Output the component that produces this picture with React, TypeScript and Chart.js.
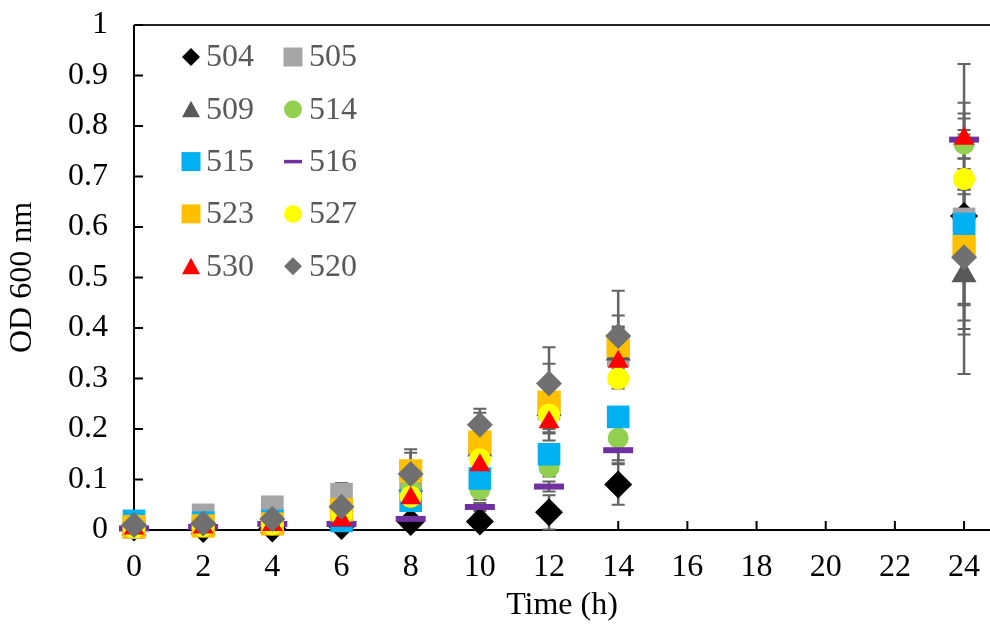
import React, { useEffect, useRef } from 'react';
import { Chart, registerables } from 'chart.js';

Chart.register(...registerables);

// ---- data ----
const times = [0, 2, 4, 6, 8, 10, 12, 14, 24];
const xTicks = [0, 2, 4, 6, 8, 10, 12, 14, 16, 18, 20, 22, 24];
const yTicks = [0, 0.1, 0.2, 0.3, 0.4, 0.5, 0.6, 0.7, 0.8, 0.9, 1];
const xTitle = 'Time (h)';
const yTitle = 'OD 600 nm';

const names = ['504', '505', '509', '514', '515', '516', '523', '527', '530', '520'];

const v504 = [0.005, 0.002, 0.003, 0.008, 0.016, 0.017, 0.035, 0.09, 0.622];
const e504 = [0.003, 0.002, 0.003, 0.005, 0.01, 0.015, 0.034, 0.04, 0.224];
const v505 = [0.005, 0.03, 0.046, 0.071, 0.1, 0.17, 0.24, 0.345, 0.616];
const e505 = [0.003, 0.005, 0.008, 0.022, 0.02, 0.03, 0.04, 0.058, 0.307];
const v509 = [0.003, 0.005, 0.008, 0.03, 0.09, 0.16, 0.24, 0.35, 0.505];
const e509 = [0.002, 0.003, 0.004, 0.005, 0.015, 0.02, 0.03, 0.05, 0.06];
const v514 = [0.004, 0.006, 0.01, 0.02, 0.08, 0.08, 0.124, 0.182, 0.764];
const e514 = [0.002, 0.003, 0.004, 0.005, 0.01, 0.02, 0.018, 0.05, 0.028];
const v515 = [0.018, 0.0145, 0.018, 0.018, 0.058, 0.102, 0.15, 0.224, 0.606];
const e515 = [0.003, 0.003, 0.003, 0.004, 0.01, 0.02, 0.02, 0.016, 0.219];
const v516 = [0.003, 0.006, 0.012, 0.012, 0.022, 0.0455, 0.086, 0.158, 0.773];
const e516 = [0.001, 0.002, 0.002, 0.003, 0.005, 0.008, 0.01, 0.02, 0.01];
const v523 = [0.0065, 0.008, 0.012, 0.04, 0.117, 0.174, 0.253, 0.365, 0.561];
const e523 = [0.003, 0.003, 0.004, 0.008, 0.043, 0.058, 0.076, 0.06, 0.113];
const v527 = [0.005, 0.008, 0.012, 0.03, 0.066, 0.14, 0.228, 0.3, 0.695];
const e527 = [0.002, 0.003, 0.003, 0.005, 0.01, 0.02, 0.037, 0.02, 0.02];
const v530 = [0.003, 0.005, 0.01, 0.02, 0.063, 0.128, 0.2135, 0.333, 0.775];
const e530 = [0.002, 0.002, 0.003, 0.004, 0.01, 0.02, 0.02, 0.02, 0.04];
const v520 = [0.01, 0.013, 0.022, 0.046, 0.111, 0.2085, 0.29, 0.384, 0.54];
const e520 = [0.003, 0.003, 0.004, 0.006, 0.042, 0.0315, 0.072, 0.09, 0.125];

const values = [v504, v505, v509, v514, v515, v516, v523, v527, v530, v520];
const errors = [e504, e505, e509, e514, e515, e516, e523, e527, e530, e520];

// ---- styles ----
const colors = ['#000000', '#A5A5A5', '#595959', '#92D050', '#00B0F0', '#7030A0', '#FFC000', '#FFFF00', '#FF0000', '#707070'];
const shapes = ['rectRot', 'rect', 'triangle', 'circle', 'rect', 'line', 'rect', 'circle', 'triangle', 'rectRot'];
const radii = [14, 16, 14.5, 10.5, 16, 15, 16.5, 11, 12, 13];
const FONT = "'Liberation Serif', 'Times New Roman', serif";

function legendMarker(ctx: CanvasRenderingContext2D, shape: string, x: number, y: number, color: string) {
  ctx.fillStyle = color;
  ctx.strokeStyle = color;
  ctx.beginPath();
  if (shape === 'rectRot') {
    const h = 9;
    ctx.moveTo(x, y - h); ctx.lineTo(x + h, y); ctx.lineTo(x, y + h); ctx.lineTo(x - h, y); ctx.closePath(); ctx.fill();
  } else if (shape === 'rect') {
    const h = 9.5;
    ctx.rect(x - h, y - h, 2 * h, 2 * h); ctx.fill();
  } else if (shape === 'triangle') {
    const w = 9;
    ctx.moveTo(x, y - 8.5); ctx.lineTo(x + w, y + 8); ctx.lineTo(x - w, y + 8); ctx.closePath(); ctx.fill();
  } else if (shape === 'circle') {
    ctx.arc(x, y, 9, 0, Math.PI * 2); ctx.fill();
  } else if (shape === 'line') {
    ctx.lineWidth = 3.5;
    ctx.moveTo(x - 9, y); ctx.lineTo(x + 9, y); ctx.stroke();
  }
}

const framePlugin = {
  id: 'frame',
  beforeDatasetsDraw(chart: any) {
    const { ctx, chartArea: a, scales } = chart;
    const x = scales.x, y = scales.y;
    ctx.save();
    // axes
    ctx.strokeStyle = '#000';
    ctx.lineWidth = 2;
    ctx.beginPath();
    ctx.moveTo(a.left, a.top); ctx.lineTo(a.left, a.bottom);
    ctx.moveTo(a.left - 1, a.bottom); ctx.lineTo(a.right, a.bottom);
    ctx.stroke();
    ctx.strokeStyle = '#222';
    ctx.lineWidth = 2;
    ctx.beginPath();
    ctx.moveTo(a.left, a.top); ctx.lineTo(a.right, a.top);
    ctx.stroke();
    // inward ticks
    ctx.strokeStyle = '#000';
    ctx.lineWidth = 2;
    ctx.beginPath();
    yTicks.forEach((v) => {
      const py = y.getPixelForValue(v);
      ctx.moveTo(a.left, py); ctx.lineTo(a.left + 9, py);
    });
    xTicks.forEach((v) => {
      const px = x.getPixelForValue(v);
      ctx.moveTo(px, a.bottom); ctx.lineTo(px, a.bottom - 9);
    });
    ctx.stroke();
    // error bars
    ctx.strokeStyle = '#636363';
    values.forEach((vals, si) => {
      vals.forEach((v, i) => {
        const e = errors[si][i];
        const px = x.getPixelForValue(times[i]);
        const t = y.getPixelForValue(v + e);
        const b = y.getPixelForValue(v - e);
        ctx.lineWidth = 2.5;
        ctx.beginPath();
        ctx.moveTo(px, t); ctx.lineTo(px, b);
        ctx.stroke();
        ctx.lineWidth = 2;
        ctx.beginPath();
        ctx.moveTo(px - 6.5, t); ctx.lineTo(px + 6.5, t);
        ctx.moveTo(px - 6.5, b); ctx.lineTo(px + 6.5, b);
        ctx.stroke();
      });
    });
    ctx.restore();
  },
  afterDatasetsDraw(chart: any) {
    const { ctx } = chart;
    ctx.save();
    const colX = [191, 293];
    const textX = [206, 309];
    const row0 = 57;
    const rowH = 52.3;
    ctx.font = `32px ${FONT}`;
    ctx.textBaseline = 'middle';
    ctx.textAlign = 'left';
    names.forEach((n, i) => {
      const col = i % 2;
      const row = Math.floor(i / 2);
      const cy = row0 + row * rowH;
      legendMarker(ctx, shapes[i], colX[col], cy, colors[i]);
      ctx.fillStyle = '#595959';
      ctx.fillText(n, textX[col], cy + 1);
    });
    ctx.restore();
  },
};

export default function App() {
  const ref = useRef<HTMLCanvasElement | null>(null);
  useEffect(() => {
    if (!ref.current) return;
    const datasets = names.map((n, i) => ({
      label: n,
      data: times.map((t, j) => ({ x: t, y: values[i][j] })),
      pointStyle: shapes[i],
      pointRadius: radii[i],
      pointHoverRadius: radii[i],
      backgroundColor: colors[i],
      borderColor: colors[i],
      pointBorderWidth: shapes[i] === 'line' ? 6 : 0,
      showLine: false,
      clip: false as any,
      order: names.length - i,
    }));
    const chart = new Chart(ref.current, {
      type: 'scatter',
      data: { datasets },
      options: {
        animation: false,
        responsive: false,
        devicePixelRatio: 1,
        layout: { autoPadding: false, padding: { top: 25, left: 0, right: 0, bottom: 0 } },
        plugins: { legend: { display: false }, tooltip: { enabled: false } },
        events: [],
        scales: {
          x: {
            type: 'linear',
            min: 0,
            max: 24.75,
            grid: { display: false, drawTicks: false },
            border: { display: false },
            afterBuildTicks: (s: any) => { s.ticks = xTicks.map((v) => ({ value: v })); },
            afterFit: (s: any) => { s.height = 96; s.paddingLeft = 0; s.paddingRight = 0; s.paddingTop = 0; s.paddingBottom = 0; },
            ticks: {
              color: '#000',
              padding: 18,
              maxRotation: 0,
              font: { family: FONT, size: 32 },
              callback: (v: any) => String(v),
            },
            title: {
              display: true,
              text: xTitle,
              color: '#000',
              font: { family: FONT, size: 32 },
              padding: { top: 0, bottom: 1 },
            },
          },
          y: {
            type: 'linear',
            min: 0,
            max: 1,
            grid: { display: false, drawTicks: false },
            border: { display: false },
            afterBuildTicks: (s: any) => { s.ticks = yTicks.map((v) => ({ value: v })); },
            afterFit: (s: any) => { s.width = 134; s.paddingLeft = 0; s.paddingRight = 0; s.paddingTop = 0; s.paddingBottom = 0; },
            ticks: {
              color: '#000',
              padding: 26,
              font: { family: FONT, size: 32 },
              callback: (v: any) => String(Math.round(Number(v) * 10) / 10),
            },
            title: {
              display: true,
              text: yTitle,
              color: '#000',
              font: { family: FONT, size: 32 },
              padding: { top: 3, bottom: 0 },
            },
          },
        },
      },
      plugins: [framePlugin],
    } as any);
    return () => chart.destroy();
  }, []);
  return (
    <div style={{ position: 'fixed', left: 0, top: 0, width: 990, height: 626, background: '#fff' }}>
      <canvas ref={ref} width={990} height={626} style={{ display: 'block' }} />
    </div>
  );
}
